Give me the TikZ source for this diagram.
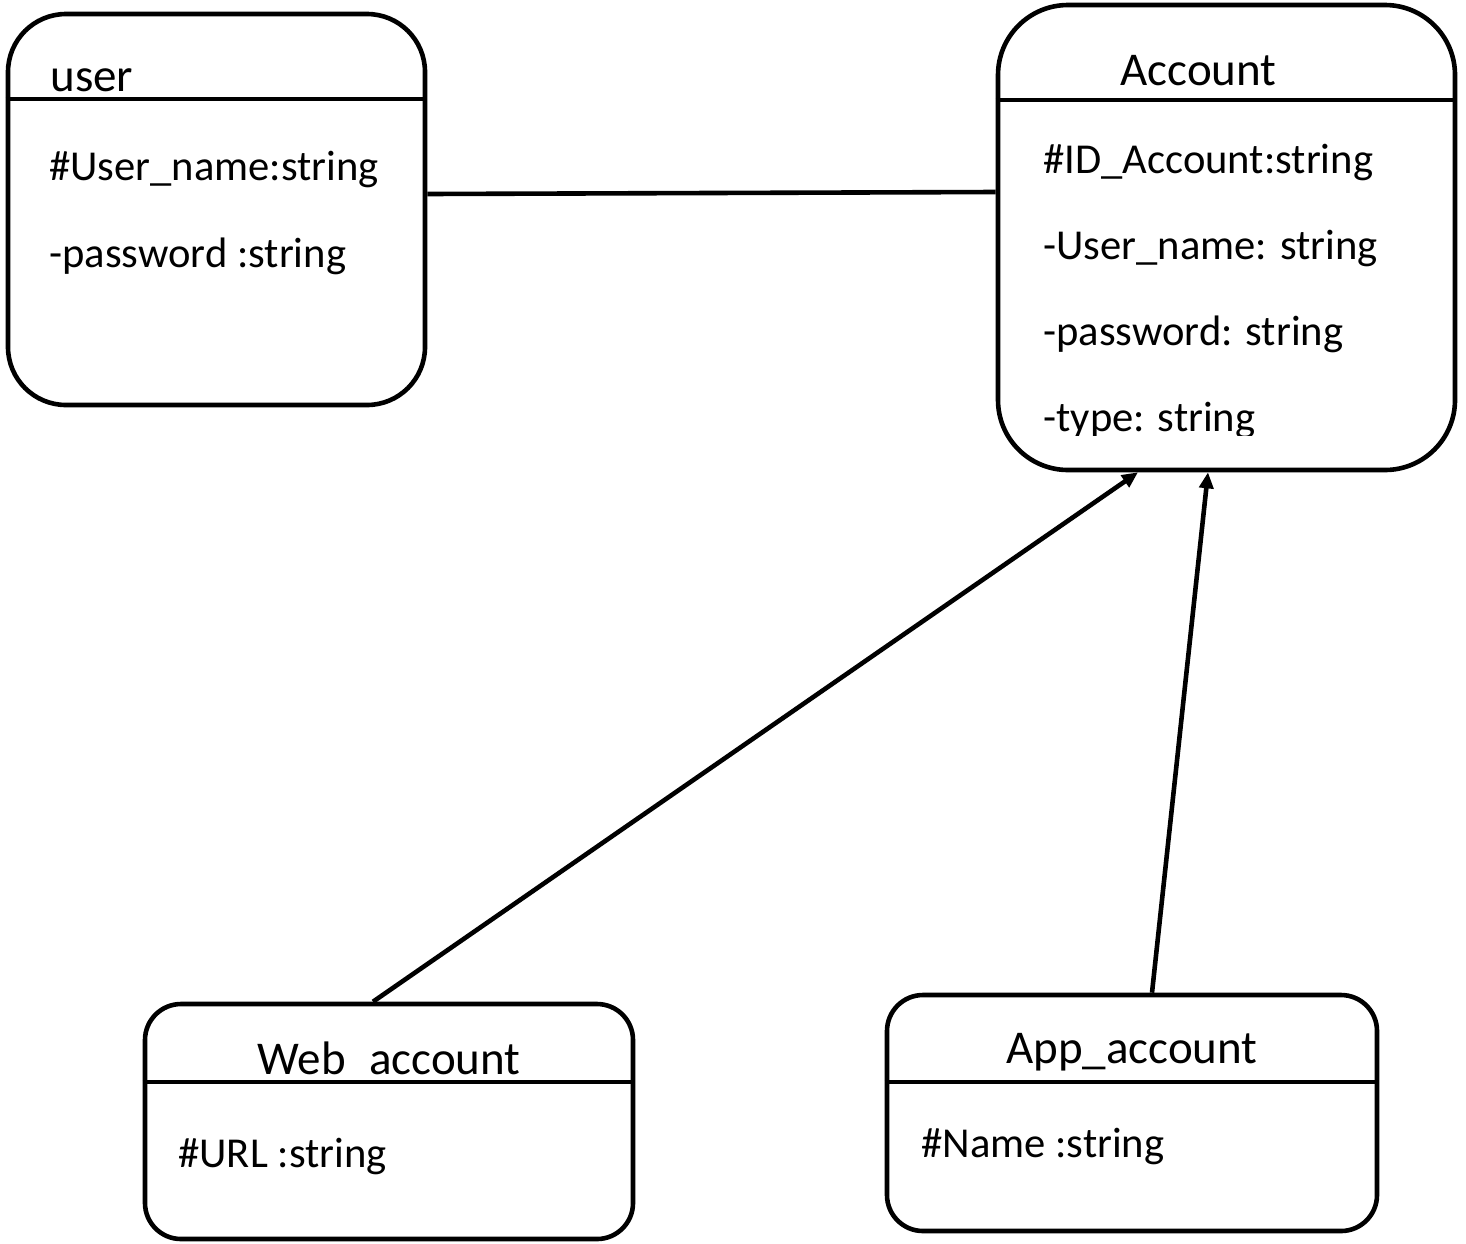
\documentclass[tikz,border=0pt]{standalone}
\usepackage{fontspec}
\setmainfont{Carlito}
\usetikzlibrary{arrows.meta}
\tikzset{
  box/.style={draw, line width=2.3pt, rounded corners=#1, inner sep=0pt},
  divider/.style={line width=2.3pt},
  title/.style={anchor=base west, inner sep=0pt, font=\fontsize{23.5pt}{28pt}\selectfont},
  ctitle/.style={title, anchor=base},
  attr/.style={anchor=base west, inner sep=0pt, font=\fontsize{21.3pt}{26pt}\selectfont},
  link/.style={line width=2.3pt},
  inherit/.style={line width=2.3pt, -{Triangle[length=8pt,width=7pt]}},
}
\begin{document}
\begin{tikzpicture}[x=0.5pt,y=-0.5pt]
\useasboundingbox (0,0) rectangle (1466,1243);

% class boxes
\node[box=29pt, minimum width=208.5pt, minimum height=195.5pt] (user) at (216.5,209.5) {};
\node[box=35pt, minimum width=228.5pt, minimum height=232.5pt] (acct) at (1226.5,237.5) {};
\node[box=18pt, minimum width=244pt, minimum height=117.5pt] (web) at (389,1121.5) {};
\node[box=18pt, minimum width=245pt, minimum height=118pt] (app) at (1132,1113) {};

% user
\node[title] (usertitle) at (50,91) {user};
\draw[divider] (user.west |- 0,99) -- (user.east |- 0,99);
\node[attr] (userA) at (49,180) {\#User\_name:string};
\node[attr] (userB) at (49,267) {-password :string};

% Account
\node[title] (accttitle) at (1120,85) {Account};
\draw[divider] (acct.west |- 0,100) -- (acct.east |- 0,100);
\begin{scope}
  \clip (998,100) rectangle (1455,435);
  \node[attr] (acctA) at (1043,173) {\#ID\_Account:string};
  \node[attr] (acctB) at (1043,259) {-User\_name: string};
  \node[attr] (acctC) at (1043,345) {-password: string};
  \node[attr] (acctD) at (1043,431) {-type: string};
\end{scope}

% Web_account (title cut off just below its baseline, hiding the underscore)
\begin{scope}
  \clip (145,1004) rectangle (633,1075.5);
  \node[ctitle] (webtitle) at (389,1074) {Web\_account};
\end{scope}
\draw[divider] (web.west |- 0,1082) -- (web.east |- 0,1082);
\node[attr] (webA) at (178,1167) {\#URL :string};

% App_account
\node[ctitle] (apptitle) at (1132,1063) {App\_account};
\draw[divider] (app.west |- 0,1082) -- (app.east |- 0,1082);
\node[attr] (appA) at (921,1157) {\#Name :string};

% relations
\draw[link] ([yshift=7.75pt]user.east) -- ([yshift=22.75pt]acct.west);
\draw[inherit] ([xshift=-8pt]web.north) -- ([xshift=-44.25pt]acct.south);
\draw[inherit] ([xshift=10pt]app.north) -- ([xshift=-9.25pt]acct.south);
\end{tikzpicture}
\end{document}
